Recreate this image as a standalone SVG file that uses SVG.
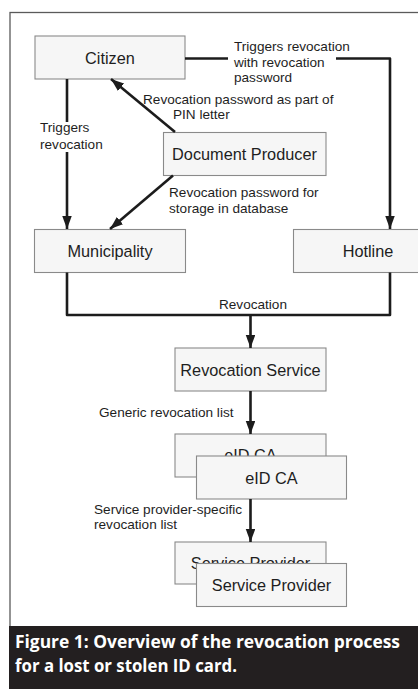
<svg xmlns="http://www.w3.org/2000/svg" width="418" height="689" viewBox="0 0 418 689">
  <style>
    .box { fill: #f6f6f6; stroke: #8a8a8a; stroke-width: 1.1; }
    .name { font-family: "Liberation Sans", Arial, sans-serif; font-size: 16.3px; fill: #1e1e1e; text-anchor: middle; }
    .lbl { font-family: "Liberation Sans", Arial, sans-serif; font-size: 13.6px; fill: #1e1e1e; }
    .wire { fill: none; stroke: #1c1c1c; stroke-width: 2.6; stroke-linejoin: round; }
    .cap { font-family: "Open Sans", "DejaVu Sans", sans-serif; font-weight: 700; font-size: 17.5px; fill: #ffffff; }
  </style>
  <defs>
    <marker id="arrow" markerUnits="userSpaceOnUse" markerWidth="13" markerHeight="10" refX="13" refY="4.75" orient="auto">
      <path d="M0,0 L13,4.75 L0,9.5 z" fill="#1c1c1c"/>
    </marker>
  </defs>

  <rect width="418" height="689" fill="#ffffff"/>
  <!-- figure frame -->
  <rect x="10" y="12.5" width="430" height="620" fill="none" stroke="#5a5a5a" stroke-width="1.3"/>

  <g id="citizen">
    <rect class="box" x="35" y="36" width="150" height="43"/>
    <text class="name" x="110" y="63.5">Citizen</text>
  </g>
  <g id="document-producer">
    <rect class="box" x="163.5" y="132.5" width="162.5" height="43"/>
    <text class="name" x="244.5" y="159.5">Document Producer</text>
  </g>
  <g id="municipality">
    <rect class="box" x="34.5" y="229.5" width="151" height="43"/>
    <text class="name" x="110" y="256.5">Municipality</text>
  </g>
  <g id="hotline">
    <rect class="box" x="293.5" y="229.5" width="150" height="43"/>
    <text class="name" x="368" y="256.5">Hotline</text>
  </g>
  <g id="revocation-service">
    <rect class="box" x="175" y="348" width="151" height="43"/>
    <text class="name" x="250.5" y="375.5">Revocation Service</text>
  </g>
  <g id="eid-ca">
    <rect class="box" x="175" y="434" width="151" height="43"/>
    <text class="name" x="250.5" y="461">eID CA</text>
    <rect class="box" x="196.5" y="456" width="150" height="43"/>
    <text class="name" x="271.5" y="483.5">eID CA</text>
  </g>
  <g id="service-provider">
    <rect class="box" x="175" y="542" width="151" height="42"/>
    <text class="name" x="250.5" y="569">Service Provider</text>
    <rect class="box" x="196.5" y="563.5" width="150" height="43"/>
    <text class="name" x="271.5" y="590.5">Service Provider</text>
  </g>

  <g id="connectors">
    <!-- Citizen to Municipality -->
    <path class="wire" d="M67,79 V122"/>
    <path class="wire" d="M67,152 V229" marker-end="url(#arrow)"/>
    <!-- Citizen to Hotline -->
    <path class="wire" d="M185,58.5 H228"/>
    <path class="wire" d="M336,58.5 H390 V229" marker-end="url(#arrow)"/>
    <!-- Document Producer to Citizen and Municipality -->
    <path class="wire" d="M175,132 L111,79" marker-end="url(#arrow)"/>
    <path class="wire" d="M173,175.5 L110,229" marker-end="url(#arrow)"/>
    <!-- Municipality and Hotline merge into Revocation Service -->
    <path class="wire" d="M67,272.5 V315 H390 V272.5"/>
    <path class="wire" d="M250.5,315 V348" marker-end="url(#arrow)"/>
    <!-- Revocation Service to eID CA -->
    <path class="wire" d="M250.5,391 V434" marker-end="url(#arrow)"/>
    <!-- eID CA to Service Provider -->
    <path class="wire" d="M250.5,499 V542" marker-end="url(#arrow)"/>
  </g>

  <g id="labels">
    <text class="lbl" x="234" y="51">Triggers revocation</text>
    <text class="lbl" x="234" y="66.5">with revocation</text>
    <text class="lbl" x="234" y="82">password</text>
    <text class="lbl" x="143" y="103.5">Revocation password as part of</text>
    <text class="lbl" x="173" y="119">PIN letter</text>
    <text class="lbl" x="40" y="131.5">Triggers</text>
    <text class="lbl" x="40" y="149">revocation</text>
    <text class="lbl" x="169" y="197">Revocation password for</text>
    <text class="lbl" x="169" y="212.5">storage in database</text>
    <text class="lbl" x="253" y="309" text-anchor="middle">Revocation</text>
    <text class="lbl" x="99" y="417">Generic revocation list</text>
    <text class="lbl" x="94" y="514">Service provider-specific</text>
    <text class="lbl" x="94" y="528.5">revocation list</text>
  </g>

  <!-- caption band -->
  <rect x="9" y="626" width="409" height="63" fill="#231f20"/>
  <text class="cap" x="15" y="648" textLength="385" lengthAdjust="spacingAndGlyphs">Figure 1: Overview of the revocation process</text>
  <text class="cap" x="15" y="672" textLength="222" lengthAdjust="spacingAndGlyphs">for a lost or stolen ID card.</text>
</svg>
